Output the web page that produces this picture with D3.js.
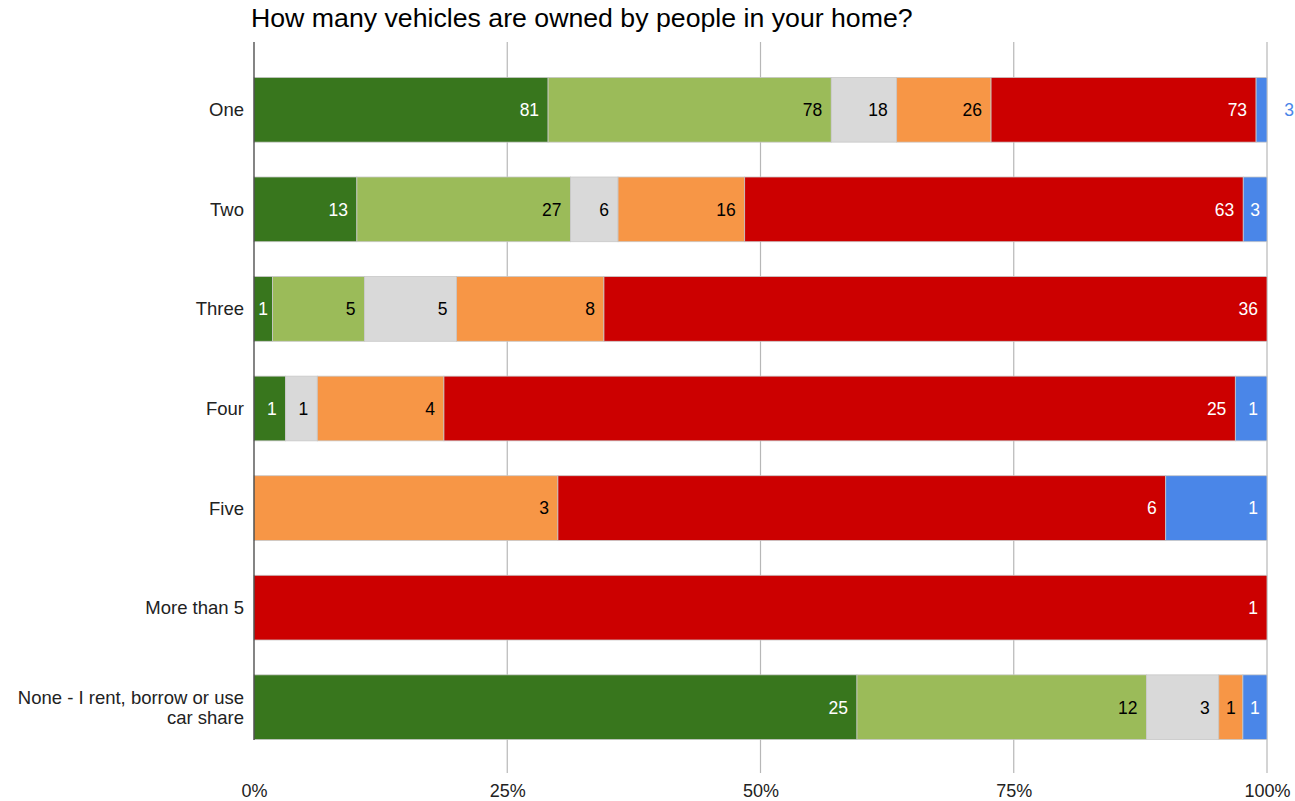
<!DOCTYPE html>
<html>
<head>
<meta charset="utf-8">
<script src="https://cdn.jsdelivr.net/npm/d3@7/dist/d3.min.js"></script>
<style>
  html, body { margin: 0; padding: 0; background: #fff; }
  svg { display: block; font-family: "Liberation Sans", Arial, sans-serif; }
</style>
</head>
<body>
<svg id="chart" width="1295" height="801"></svg>
<script>
// Vehicle ownership responses, stacked to 100% per household size
const categories = ["One", "Two", "Three", "Four", "Five", "More than 5", "None - I rent, borrow or use car share"];
const seriesKeys = ["s1", "s2", "s3", "s4", "s5", "s6"];
const s1 = [81, 13, 1, 1, 0, 0, 25];
const s2 = [78, 27, 5, 0, 0, 0, 12];
const s3 = [18, 6, 5, 1, 0, 0, 3];
const s4 = [26, 16, 8, 4, 3, 0, 1];
const s5 = [73, 63, 36, 25, 6, 1, 0];
const s6 = [3, 3, 0, 1, 1, 0, 1];
const tickValues = [0, 0.25, 0.5, 0.75, 1];
const title = "How many vehicles are owned by people in your home?";

const seriesColors = ["#38761d", "#9bbb59", "#d9d9d9", "#f79646", "#cc0000", "#4a86e8"];
const labelColors = ["#fff", "#000", "#000", "#000", "#fff", "#fff"];

const seriesValues = [s1, s2, s3, s4, s5, s6];
const rows = categories.map((c, i) => {
  const r = { category: c };
  seriesKeys.forEach((k, j) => r[k] = seriesValues[j][i]);
  return r;
});

const svg = d3.select("#chart");
const W = 1295;
const plotLeft = 254, plotRight = 1267, plotTop = 42;

const x = d3.scaleLinear().domain([0, 1]).range([plotLeft, plotRight]);
const y = d3.scaleBand().domain(categories).range([60, 757]).paddingInner(0.35).paddingOuter(0.175);

const stack = d3.stack().keys(seriesKeys).offset(d3.stackOffsetExpand);
const layers = stack(rows);

// title
svg.append("text")
  .attr("x", 251).attr("y", 27)
  .attr("font-size", 26.7)
  .attr("fill", "#000")
  .text(title);

// vertical gridlines
svg.append("g")
  .selectAll("line")
  .data(tickValues.slice(1))
  .join("line")
  .attr("x1", d => x(d)).attr("x2", d => x(d))
  .attr("y1", plotTop).attr("y2", 773)
  .attr("stroke", "#b7b7b7").attr("stroke-width", 1.2);

// x tick labels
const xAxis = d3.axisBottom(x).tickValues(tickValues).tickFormat(d3.format(".0%")).tickSize(0).tickPadding(0);
const gx = svg.append("g").attr("transform", "translate(0,797)").call(xAxis);
gx.select(".domain").remove();
gx.selectAll("text").attr("font-size", 18).attr("fill", "#222").attr("dy", 0).attr("y", 0)
  .attr("font-family", "Liberation Sans, Arial, sans-serif");

// bars
const layerG = svg.append("g")
  .selectAll("g")
  .data(layers)
  .join("g")
  .attr("fill", (d, i) => seriesColors[i]);

layerG.selectAll("rect")
  .data(d => d.filter(p => p[1] - p[0] > 0))
  .join("rect")
  .attr("x", p => x(p[0]))
  .attr("y", p => y(p.data.category))
  .attr("width", p => x(p[1]) - x(p[0]))
  .attr("height", y.bandwidth())
  .attr("stroke", "#c8c8c8")
  .attr("stroke-width", 0.8);

// value labels: inside the segment when it fits, otherwise just past its end
const labelG = svg.append("g").attr("font-size", 17.5);
layers.forEach((layer, i) => {
  layer.forEach(p => {
    const v = p.data[layer.key];
    if (!v) return;
    const x0 = x(p[0]), x1 = x(p[1]);
    const cy = y(p.data.category) + y.bandwidth() / 2;
    const w = x1 - x0;
    const t = labelG.append("text")
      .attr("y", cy).attr("dy", "0.36em")
      .text(v);
    const tw = t.node().getComputedTextLength();
    if (w >= tw + 6) {
      const pad = Math.min(9, (w - tw) / 2);
      t.attr("x", x1 - pad).attr("text-anchor", "end").attr("fill", labelColors[i]);
    } else {
      const lx = Math.min(x1 + 20, W - tw - 1);
      t.attr("x", lx).attr("text-anchor", "start").attr("fill", seriesColors[i]);
    }
  });
});

// axis line at 0%
svg.append("line")
  .attr("x1", x(0)).attr("x2", x(0))
  .attr("y1", plotTop).attr("y2", 740)
  .attr("stroke", "#333").attr("stroke-width", 1.2);

// category labels, wrapped when wider than the margin
const catG = svg.append("g").attr("font-size", 18.5).attr("fill", "#222").attr("text-anchor", "end");
const maxLabelWidth = 240;
categories.forEach(c => {
  const cy = y(c) + y.bandwidth() / 2;
  const t = catG.append("text").attr("x", 244).attr("y", cy);
  const words = c.split(" ");
  const lines = [];
  let cur = [];
  const probe = catG.append("text").attr("visibility", "hidden");
  words.forEach(wd => {
    const trial = cur.concat(wd).join(" ");
    probe.text(trial);
    if (cur.length && probe.node().getComputedTextLength() > maxLabelWidth) {
      lines.push(cur.join(" "));
      cur = [wd];
    } else {
      cur.push(wd);
    }
  });
  lines.push(cur.join(" "));
  probe.remove();
  const lh = 20;
  const firstBaseline = cy + 6.5 - (lines.length - 1) * lh / 2;
  lines.forEach((ln, k) => {
    t.append("tspan").attr("x", 244).attr("y", firstBaseline + k * lh).text(ln);
  });
});
</script>
</body>
</html>
